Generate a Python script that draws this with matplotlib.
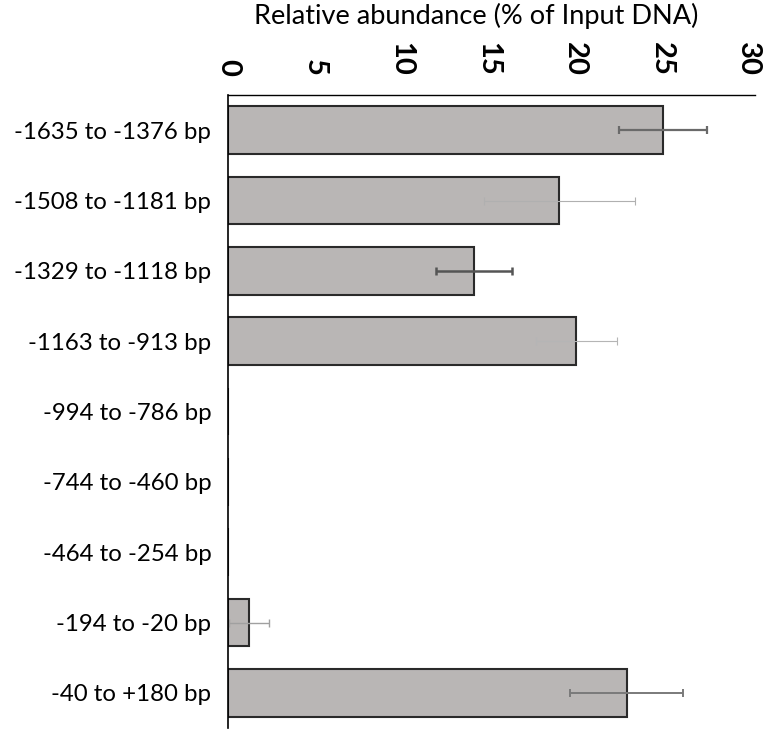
import matplotlib
matplotlib.use("Agg")
import matplotlib.pyplot as plt
import numpy as np

categories = ["-1635 to -1376 bp", "-1508 to -1181 bp", "-1329 to -1118 bp",
              "-1163 to -913 bp", "-994 to -786 bp", "-744 to -460 bp",
              "-464 to -254 bp", "-194 to -20 bp", "-40 to +180 bp"]
values = [25.1, 19.1, 14.2, 20.1, 0, 0, 0, 1.2, 23.0]
errors = [2.55, 4.35, 2.2, 2.35, 0, 0, 0, 1.15, 3.25]
err_colors = ["#6a6a6a", "#b0b0b0", "#555555", "#b5b5b5", "#999999", "#999999", "#999999", "#a0a0a0", "#7a7a7a"]
err_widths = [1.6, 0.8, 1.8, 0.8, 1, 1, 1, 1.0, 1.4]
xticks = [0, 5, 10, 15, 20, 25, 30]

plt.rcParams['font.family'] = ['Lato', 'DejaVu Sans']
fig = plt.figure(figsize=(7.8, 7.35), dpi=100)
ax = fig.add_axes([0.2923, 0.0095, 0.968 - 0.2923, 0.8707 - 0.0095])

y = np.arange(len(categories))
ax.barh(y, values, height=0.68, color="#b9b6b5", edgecolor="#2a2a2a", linewidth=1.5)
for yi, v, e, c, w in zip(y, values, errors, err_colors, err_widths):
    if e > 0:
        ax.errorbar(v, yi, xerr=e, fmt='none', ecolor=c, elinewidth=w, capsize=3, capthick=w)

ax.set_ylim(len(categories) - 0.5, -0.5)
ax.set_xlim(0, 30.4)
ax.set_yticks(y)
ax.set_yticklabels(categories, fontsize=17.3)
ax.xaxis.tick_top()
ax.set_xticks(xticks)
ax.set_xticklabels([str(t) for t in xticks], rotation=-90, fontsize=21, fontweight='bold')
ax.tick_params(axis='both', length=0)
ax.tick_params(axis='x', pad=14)
ax.tick_params(axis='y', pad=12)
for s in ['right', 'bottom']:
    ax.spines[s].set_visible(False)
ax.spines['top'].set_linewidth(1.0)
ax.spines['left'].set_linewidth(1.2)
fig.text(0.61, 0.978, "Relative abundance (% of Input DNA)", ha='center', va='center', fontsize=19.5)
fig.savefig("out.png", dpi=100)
